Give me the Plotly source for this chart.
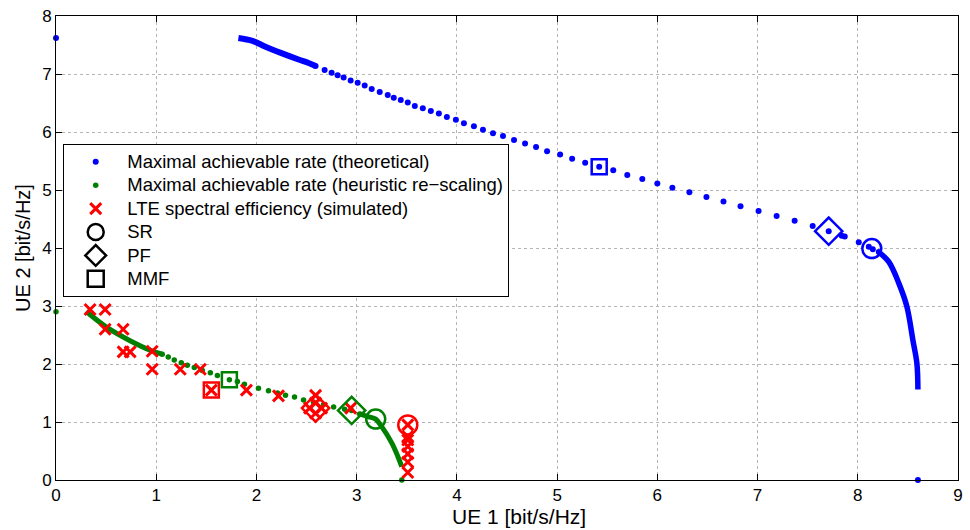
import plotly.graph_objects as go

# ---- rate region, theoretical (blue) ----
theo_x = [0.00, 2.59, 2.68, 2.75, 2.81, 2.87, 2.94, 3.01, 3.08, 3.15, 3.23, 3.31, 3.37,
          3.44, 3.51, 3.58, 3.66, 3.74, 3.82, 3.90, 3.99, 4.07, 4.17, 4.26, 4.36, 4.46,
          4.57, 4.68, 4.79, 4.90, 5.03, 5.15, 5.28, 5.42, 5.56, 5.70, 5.85, 6.00, 6.15,
          6.32, 6.49, 6.66, 6.83, 7.01, 7.19, 7.37, 7.55, 7.71, 7.84, 7.87, 8.01, 8.11,
          8.15, 8.21, 8.60]
theo_y = [7.62, 7.14, 7.07, 7.02, 6.98, 6.94, 6.89, 6.85, 6.80, 6.74, 6.69, 6.64, 6.59,
          6.55, 6.51, 6.45, 6.41, 6.36, 6.32, 6.26, 6.21, 6.15, 6.10, 6.04, 5.98, 5.93,
          5.86, 5.80, 5.74, 5.67, 5.61, 5.54, 5.47, 5.40, 5.34, 5.26, 5.19, 5.11, 5.04,
          4.96, 4.88, 4.80, 4.72, 4.64, 4.55, 4.47, 4.38, 4.29, 4.21, 4.20, 4.10, 4.02,
          3.98, 3.93, 0.00]
# densely sampled stretches of the same curve
theo_head_x = [1.82, 1.96, 2.09, 2.25, 2.42, 2.52, 2.59]
theo_head_y = [7.62, 7.57, 7.47, 7.36, 7.25, 7.19, 7.14]
theo_tail_x = [8.21, 8.31, 8.41, 8.49, 8.55, 8.59, 8.60]
theo_tail_y = [3.93, 3.76, 3.39, 2.99, 2.41, 2.01, 1.56]

# ---- rate region, heuristic re-scaling (green) ----
heur_x = [0.00, 1.06, 1.12, 1.18, 1.25, 1.31, 1.38, 1.46, 1.54, 1.61, 1.73, 1.81, 1.88,
          2.02, 2.12, 2.21, 2.29, 2.38, 2.47, 2.57, 2.67, 2.77, 2.88, 2.95, 3.03, 3.45]
heur_y = [2.90, 2.17, 2.12, 2.07, 2.02, 1.98, 1.94, 1.89, 1.85, 1.80, 1.73, 1.70, 1.65,
          1.58, 1.54, 1.50, 1.46, 1.43, 1.38, 1.34, 1.30, 1.26, 1.22, 1.20, 1.14, 0.00]
heur_head_x = [0.30, 0.50, 0.73, 0.95, 1.06]
heur_head_y = [2.91, 2.64, 2.41, 2.23, 2.17]
heur_tail_x = [3.03, 3.12, 3.19, 3.25, 3.35, 3.41, 3.45]
heur_tail_y = [1.14, 1.09, 1.05, 0.92, 0.64, 0.41, 0.23]

# ---- LTE simulated spectral efficiency (red) ----
lte_x = [0.34, 0.49, 0.49, 0.67, 0.67, 0.74, 0.96, 0.96, 1.24, 1.44, 1.55, 1.90, 2.22,
         2.59, 2.59, 2.53, 2.65, 2.59, 2.94, 3.51, 3.51, 3.51, 3.51, 3.51, 3.51, 3.51]
lte_y = [2.94, 2.94, 2.60, 2.60, 2.21, 2.21, 2.22, 1.91, 1.91, 1.91, 1.55, 1.55, 1.45,
         1.46, 1.33, 1.24, 1.24, 1.15, 1.24, 0.95, 0.75, 0.69, 0.58, 0.45, 0.31, 0.13]

# ---- operating points: SR, PF, MMF ----
schemes = ["SR", "PF", "MMF"]
scheme_symbols = ["circle-open", "diamond-open", "square-open"]
scheme_sizes = [19, 21, 15]
theo_pts_x = [8.14, 7.71, 5.42]
theo_pts_y = [3.99, 4.29, 5.40]
heur_pts_x = [3.19, 2.95, 1.73]
heur_pts_y = [1.05, 1.20, 1.73]
lte_pts_x = [3.51, 2.59, 1.55]
lte_pts_y = [0.95, 1.24, 1.55]

BLUE = "#0000ff"
GREEN = "#008000"
RED = "#ff0000"
FONT = "Liberation Sans, Arial, sans-serif"


def legend_label(text):
    # larger glyphs inside a compact legend row
    return '<span style="font-size:18.5px">' + text + "</span>"


fig = go.Figure()

# solid-looking dense parts
for xs, ys, c, w in [(theo_head_x, theo_head_y, BLUE, 6), (theo_tail_x, theo_tail_y, BLUE, 5.5),
                     (heur_head_x, heur_head_y, GREEN, 5), (heur_tail_x, heur_tail_y, GREEN, 5)]:
    fig.add_trace(go.Scatter(x=xs, y=ys, mode="lines", line=dict(color=c, width=w, shape="spline"),
                             showlegend=False, hoverinfo="skip", cliponaxis=False))

fig.add_trace(go.Scatter(x=theo_x, y=theo_y, mode="markers",
                         marker=dict(color=BLUE, size=6),
                         name=legend_label("Maximal achievable rate (theoretical)"),
                         cliponaxis=False))
fig.add_trace(go.Scatter(x=heur_x, y=heur_y, mode="markers",
                         marker=dict(color=GREEN, size=5.5),
                         name=legend_label("Maximal achievable rate (heuristic re\u2212scaling)"),
                         cliponaxis=False))
fig.add_trace(go.Scatter(x=lte_x, y=lte_y, mode="markers",
                         marker=dict(symbol="x-thin-open", color=RED, size=11,
                                     line=dict(color=RED, width=3)),
                         name=legend_label("LTE spectral efficiency (simulated)"),
                         cliponaxis=False))

# operating-point markers on each curve
for px, py, c in [(theo_pts_x, theo_pts_y, BLUE), (heur_pts_x, heur_pts_y, GREEN),
                  (lte_pts_x, lte_pts_y, RED)]:
    for i in range(3):
        fig.add_trace(go.Scatter(x=[px[i]], y=[py[i]], mode="markers",
                                 marker=dict(symbol=scheme_symbols[i], size=scheme_sizes[i],
                                             color=c, line=dict(color=c, width=2.5)),
                                 showlegend=False, cliponaxis=False))

# legend-only entries for the scheme symbols
for i, name in enumerate(schemes):
    fig.add_trace(go.Scatter(x=[None], y=[None], mode="markers", name=legend_label(name),
                             marker=dict(symbol=scheme_symbols[i], size=16, color="black",
                                         line=dict(color="black", width=2.5))))

axis_common = dict(
    showline=True, linecolor="black", linewidth=1, mirror="ticks",
    ticks="inside", ticklen=6, tickcolor="black",
    showgrid=True, gridcolor="#b5b5b5", griddash="dot", gridwidth=1,
    zeroline=False, dtick=1, tickfont=dict(family=FONT, size=17, color="black"),
)

fig.update_layout(
    width=970, height=530,
    margin=dict(l=56, r=7, t=16, b=50),
    paper_bgcolor="white", plot_bgcolor="white",
    font=dict(family=FONT, color="black"),
    xaxis=dict(range=[0, 9], **axis_common),
    yaxis=dict(range=[0, 8], title=dict(text="UE 2 [bit/s/Hz]", font=dict(size=20), standoff=6),
               **axis_common),
    legend=dict(x=0.008, y=0.724, xanchor="left", yanchor="top",
                bgcolor="white", bordercolor="black", borderwidth=1,
                font=dict(family=FONT, size=15.7, color="black"),
                itemwidth=53, tracegroupgap=0),
    showlegend=True,
    annotations=[dict(text="UE 1 [bit/s/Hz]", xref="paper", yref="paper",
                      x=0.5135, y=0, xanchor="center", yanchor="middle", yshift=-36,
                      showarrow=False, font=dict(family=FONT, size=21, color="black"))],
)

fig.write_html("out.html")
